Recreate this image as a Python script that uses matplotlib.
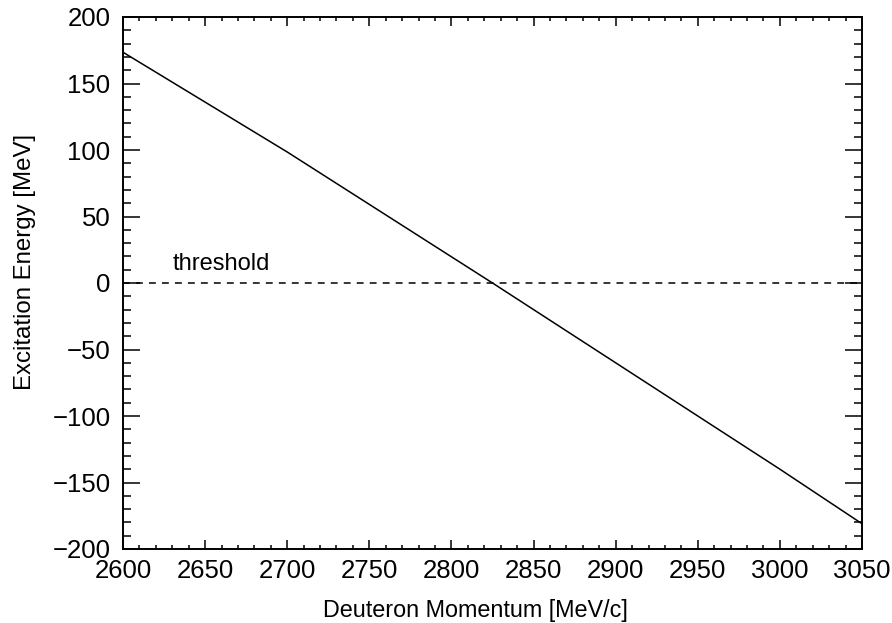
import numpy as np
import matplotlib.pyplot as plt
from matplotlib.ticker import MultipleLocator

plt.rcParams['font.family'] = ['Liberation Sans', 'DejaVu Sans']

# Excitation energy vs deuteron momentum
momentum = [2600, 2700, 2825, 2900, 3000, 3050]
energy = [173.5, 98.5, 0, -60, -140, -181]

thr_x = [2600, 3050]
thr_y = [0, 0]

W, H = 892, 623
fig = plt.figure(figsize=(W/100, H/100), dpi=100)
ax = fig.add_axes([123/W, 1 - 549/H, (862-123)/W, (549-17)/H])

ax.plot(momentum, energy, color='black', lw=1.1)
ax.plot(thr_x, thr_y, color='black', lw=1.1, ls=(0, (4.5, 4)))
ax.text(2630, 10, 'threshold', fontsize=17, ha='left', va='baseline')

ax.set_xlim(2600, 3050)
ax.set_ylim(-200, 200)
ax.xaxis.set_major_locator(MultipleLocator(50))
ax.xaxis.set_minor_locator(MultipleLocator(10))
ax.yaxis.set_major_locator(MultipleLocator(50))
ax.yaxis.set_minor_locator(MultipleLocator(10))
ax.tick_params(which='both', direction='in', top=True, right=True, labelsize=18.5, width=1.1)
ax.tick_params(axis='x', which='major', length=6.5, pad=7)
ax.tick_params(axis='x', which='minor', length=3.2)
ax.tick_params(axis='y', which='major', length=12, pad=9)
ax.tick_params(axis='y', which='minor', length=6)
for s in ax.spines.values():
    s.set_linewidth(1.4)

ax.set_xlabel('Deuteron Momentum [MeV/c]', fontsize=16.8)
ax.set_ylabel('Excitation Energy [MeV]', fontsize=17.3)
ax.xaxis.set_label_coords((323-123)/739, -(617-549)/532)
ax.xaxis.label.set_ha('left')
ax.xaxis.label.set_va('baseline')
ax.yaxis.set_label_coords((25-123)/739, (549-261.5)/532)
ax.yaxis.label.set_va('center')

fig.savefig('out.png', dpi=100)
